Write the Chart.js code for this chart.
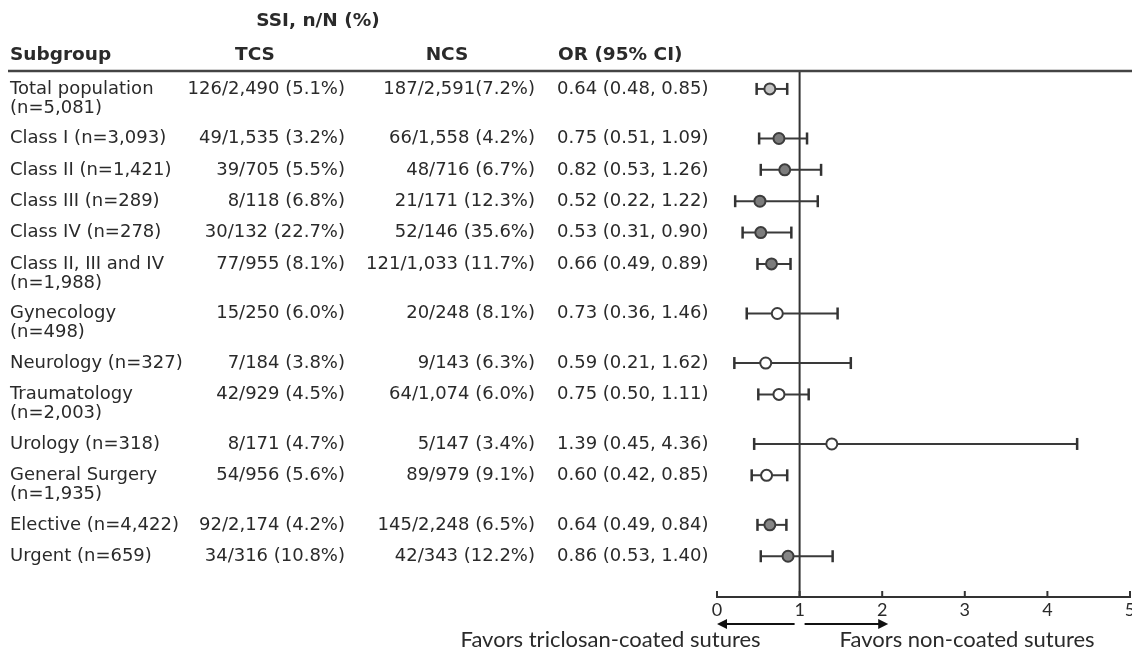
<!DOCTYPE html>
<html>
<head>
<meta charset="utf-8">
<script src="https://cdn.jsdelivr.net/npm/chart.js@4"></script>
<style>
body { margin: 0; background: #fff; }
#wrap { width: 1132px; height: 651px; position: relative; }
</style>
</head>
<body>
<div id="wrap"><canvas id="forest"></canvas></div>
<script>
const subgroups = [
  'Total population\n(n=5,081)',
  'Class I (n=3,093)',
  'Class II (n=1,421)',
  'Class III (n=289)',
  'Class IV (n=278)',
  'Class II, III and IV\n(n=1,988)',
  'Gynecology\n(n=498)',
  'Neurology (n=327)',
  'Traumatology\n(n=2,003)',
  'Urology (n=318)',
  'General Surgery\n(n=1,935)',
  'Elective (n=4,422)',
  'Urgent (n=659)'
];

const tcs = ['126/2,490 (5.1%)', '49/1,535 (3.2%)', '39/705 (5.5%)', '8/118 (6.8%)', '30/132 (22.7%)',
  '77/955 (8.1%)', '15/250 (6.0%)', '7/184 (3.8%)', '42/929 (4.5%)', '8/171 (4.7%)', '54/956 (5.6%)',
  '92/2,174 (4.2%)', '34/316 (10.8%)'];

const ncs = ['187/2,591(7.2%)', '66/1,558 (4.2%)', '48/716 (6.7%)', '21/171 (12.3%)', '52/146 (35.6%)',
  '121/1,033 (11.7%)', '20/248 (8.1%)', '9/143 (6.3%)', '64/1,074 (6.0%)', '5/147 (3.4%)', '89/979 (9.1%)',
  '145/2,248 (6.5%)', '42/343 (12.2%)'];

const oddsRatio = [0.64, 0.75, 0.82, 0.52, 0.53, 0.66, 0.73, 0.59, 0.75, 1.39, 0.60, 0.64, 0.86];
const ciLow = [0.48, 0.51, 0.53, 0.22, 0.31, 0.49, 0.36, 0.21, 0.50, 0.45, 0.42, 0.49, 0.53];
const ciHigh = [0.85, 1.09, 1.26, 1.22, 0.90, 0.89, 1.46, 1.62, 1.11, 4.36, 0.85, 0.84, 1.40];

// which kind of subgroup each row is (sets the marker fill)
const groups = ['total', 'class', 'class', 'class', 'class', 'class',
  'specialty', 'specialty', 'specialty', 'specialty', 'specialty', 'timing', 'timing'];

const xTicks = [0, 1, 2, 3, 4, 5];

const markerFill = { total: '#c4c4c4', class: '#7c7c7c', specialty: '#ffffff', timing: '#868686' };

// two-line labels take more room than one-line ones
const rowPos = [];
let p = 0;
subgroups.forEach(s => { rowPos.push(p); p += s.includes('\n') ? 1.58 : 1; });

const orText = oddsRatio.map((v, i) =>
  v.toFixed(2) + ' (' + ciLow[i].toFixed(2) + ', ' + ciHigh[i].toFixed(2) + ')');

const BODY = '18px "DejaVu Sans"';
const HEAD = 'bold 18.5px "DejaVu Sans"';
const INK = '#2a2a2a';

const tablePlugin = {
  id: 'table',
  beforeDatasetsDraw(chart) {
    const ctx = chart.ctx;
    const xs = chart.scales.x;
    const area = chart.chartArea;
    ctx.save();
    ctx.strokeStyle = '#333';
    ctx.lineWidth = 2;
    // reference line at OR = 1
    const x1 = xs.getPixelForValue(1);
    ctx.beginPath();
    ctx.moveTo(x1, area.top - 1);
    ctx.lineTo(x1, area.bottom);
    ctx.stroke();
    // tick marks pointing up, labels below (let the last one run off the edge)
    ctx.fillStyle = INK;
    ctx.font = '18px Lato';
    ctx.textAlign = 'center';
    ctx.textBaseline = 'middle';
    xs.ticks.forEach(t => {
      const x = xs.getPixelForValue(t.value);
      ctx.beginPath();
      ctx.moveTo(x, area.bottom - 6);
      ctx.lineTo(x, area.bottom);
      ctx.stroke();
      ctx.fillText(String(t.value), x, area.bottom + 13);
    });
    ctx.restore();
  },
  afterDraw(chart) {
    const ctx = chart.ctx;
    const xs = chart.scales.x;
    const ys = chart.scales.y;
    const area = chart.chartArea;
    ctx.save();
    ctx.fillStyle = INK;
    ctx.textBaseline = 'middle';

    ctx.font = HEAD;
    ctx.textAlign = 'center';
    ctx.fillText('SSI, n/N (%)', 318, 21);
    ctx.fillText('TCS', 255, 55);
    ctx.fillText('NCS', 447, 55);
    ctx.textAlign = 'left';
    ctx.fillText('Subgroup', 10, 55);
    ctx.fillText('OR (95% CI)', 558, 55);

    ctx.strokeStyle = '#444';
    ctx.lineWidth = 2.5;
    ctx.beginPath();
    ctx.moveTo(8, area.top - 1);
    ctx.lineTo(chart.width, area.top - 1);
    ctx.stroke();

    ctx.font = BODY;
    subgroups.forEach((s, i) => {
      const y = ys.getPixelForValue(rowPos[i]);
      ctx.textAlign = 'left';
      s.split('\n').forEach((ln, k) => ctx.fillText(ln, 10, y + k * 19));
      ctx.fillText(orText[i], 557, y);
      ctx.textAlign = 'right';
      ctx.fillText(tcs[i], 345, y);
      ctx.fillText(ncs[i], 535, y);
    });

    // direction arrows
    const x0 = xs.getPixelForValue(0);
    const x1 = xs.getPixelForValue(1);
    const x2 = xs.getPixelForValue(2);
    const ay = area.bottom + 27;
    ctx.strokeStyle = '#111';
    ctx.fillStyle = '#111';
    ctx.lineWidth = 2;
    ctx.beginPath();
    ctx.moveTo(x1 - 5, ay); ctx.lineTo(x0 + 6, ay);
    ctx.moveTo(x1 + 5, ay); ctx.lineTo(x2, ay);
    ctx.stroke();
    ctx.beginPath();
    ctx.moveTo(x0, ay); ctx.lineTo(x0 + 10, ay - 5); ctx.lineTo(x0 + 10, ay + 5); ctx.closePath();
    ctx.moveTo(x2 + 6, ay); ctx.lineTo(x2 - 4, ay - 5); ctx.lineTo(x2 - 4, ay + 5); ctx.closePath();
    ctx.fill();

    ctx.fillStyle = INK;
    ctx.font = '22px Lato';
    ctx.textAlign = 'right';
    ctx.fillText('Favors triclosan-coated sutures', x1 - 39, area.bottom + 43);
    ctx.textAlign = 'left';
    ctx.fillText('Favors non-coated sutures', x1 + 40, area.bottom + 43);
    ctx.restore();
  }
};

const estimates = {
  data: oddsRatio.map((v, i) => ({ x: v, y: rowPos[i] })),
  pointRadius: 5.5,
  pointBorderWidth: 2,
  pointBorderColor: '#3c3c3c',
  pointBackgroundColor: groups.map(g => markerFill[g])
};

const intervals = subgroups.map((s, i) => ({
  data: [{ x: ciLow[i], y: rowPos[i] }, { x: ciHigh[i], y: rowPos[i] }],
  showLine: true,
  borderColor: '#3a3a3a',
  borderWidth: 2,
  pointStyle: 'line',
  rotation: 90,
  pointRadius: 6,
  pointBorderWidth: 2.5,
  pointBorderColor: '#333'
}));

new Chart(document.getElementById('forest').getContext('2d'), {
  type: 'scatter',
  data: { datasets: [estimates].concat(intervals) },
  plugins: [tablePlugin],
  options: {
    responsive: true,
    maintainAspectRatio: false,
    animation: false,
    layout: { autoPadding: false, padding: { left: 717, top: 72, right: 2, bottom: 54 } },
    plugins: { legend: { display: false }, tooltip: { enabled: false } },
    scales: {
      x: {
        type: 'linear',
        min: 0,
        max: 5,
        afterBuildTicks: axis => { axis.ticks = xTicks.map(v => ({ value: v })); },
        ticks: { display: false },
        grid: { display: false, drawTicks: false },
        border: { display: true, color: '#333', width: 2 }
      },
      y: { type: 'linear', reverse: true, min: -0.54, max: 16.2, display: false }
    }
  }
});
</script>
</body>
</html>
